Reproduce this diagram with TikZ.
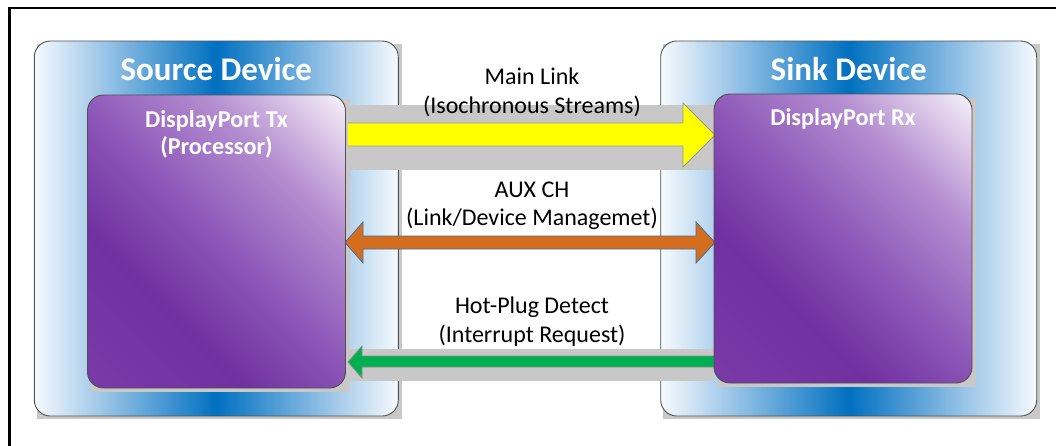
\documentclass[tikz,border=0pt]{standalone}
\usepackage{fontspec}
\setmainfont{Carlito}
\usetikzlibrary{calc}
\definecolor{dvw}{HTML}{F6FAFD}
\definecolor{dvl}{HTML}{A9CDEB}
\definecolor{dvb}{HTML}{0070C0}
\definecolor{pur}{HTML}{7030A0}
\definecolor{purc}{HTML}{7A3AA8}
\definecolor{purh}{HTML}{8C56B8}
\definecolor{purm}{HTML}{B48ED0}
\definecolor{purn}{HTML}{DCC8E8}
\definecolor{purw}{HTML}{F4F1F8}
\definecolor{shgray}{HTML}{C8C8C8}
\definecolor{boxline}{HTML}{505050}
\definecolor{ylw}{HTML}{FFFF00}
\definecolor{org}{HTML}{D46D1E}
\definecolor{orgline}{HTML}{41719C}
\definecolor{grn}{HTML}{00B050}
\pgfdeclarehorizontalshading{devshade}{100bp}{color(0bp)=(dvw); color(25bp)=(dvw); color(33bp)=(dvl); color(50bp)=(dvb); color(67bp)=(dvl); color(75bp)=(dvw); color(100bp)=(dvw)}
\pgfdeclarehorizontalshading{purshade}{100bp}{color(0bp)=(purc); color(15bp)=(purc); color(34.6bp)=(pur); color(50bp)=(purh); color(67.5bp)=(purm); color(78bp)=(purn); color(85bp)=(purw); color(100bp)=(purw)}
\pgfdeclarelayer{lzero}
\pgfdeclarelayer{lone}
\pgfdeclarelayer{ltwo}
\pgfdeclarelayer{lthree}
\pgfdeclarelayer{lfour}
\pgfdeclarelayer{lfive}
\pgfsetlayers{lzero,lone,ltwo,lthree,lfour,lfive,main}
\tikzset{
  devbox/.style={draw=boxline, line width=0.9pt, rounded corners=16pt, shading=devshade, inner sep=0pt},
  procbox/.style={draw=boxline, line width=0.9pt, rounded corners=16pt, shading=purshade, shading angle=45, inner sep=0pt, minimum width=258pt},
  devtitle/.style={text=white, font=\bfseries\fontsize{33}{37}\selectfont, anchor=base, inner sep=0pt},
  proctitle/.style={text=white, font=\bfseries\fontsize{24.2}{28}\selectfont, anchor=base, inner sep=0pt},
  linklabel/.style={text=black, font=\fontsize{24}{28}\selectfont, anchor=base, inner sep=0pt},
  band/.style={fill=shgray},
  yarrow/.style={fill=ylw, draw=gray!80, line width=0.8pt, line join=miter},
  oarrow/.style={fill=org, draw=orgline, line width=0.8pt, line join=miter},
  garrow/.style={fill=grn, draw=gray!90, line width=0.8pt, line join=miter}
}
\begin{document}
\begin{tikzpicture}[x=1pt,y=-1pt]
\useasboundingbox (0,0) rectangle (1056,445);
\begin{pgfonlayer}{lzero}
\fill[white] (0,0) rectangle (1056,445);
\end{pgfonlayer}
% outer device boxes
\begin{pgfonlayer}{ltwo}
\node[devbox, minimum width=364pt, minimum height=375pt] (src) at (216.3,228.5) {};
\node[devbox, minimum width=376pt, minimum height=375pt] (snk) at (848.7,228.5) {};
\end{pgfonlayer}
\begin{pgfonlayer}{lone}
\fill[shgray] ($(src.north west)+(3,3)$) rectangle ($(src.south east)+(3,3)$);
\fill[shgray] ($(snk.north west)+(3,3)$) rectangle ($(snk.south east)+(3,3)$);
\end{pgfonlayer}
% processor boxes
\node[procbox, minimum height=293pt] (tx) at (216.5,241.5) {};
\node[procbox, minimum height=289pt] (rx) at (843,238.5) {};
\begin{pgfonlayer}{lfour}
\fill[shgray] ($(tx.north west)+(4,4)$) rectangle ($(tx.south east)+(4,4)$);
\fill[shgray] ($(rx.north west)+(4,4)$) rectangle ($(rx.south east)+(4,4)$);
\end{pgfonlayer}
% titles
\node[devtitle] (srct) at (216.3,80) {Source Device};
\node[devtitle] (snkt) at (848.7,80) {Sink Device};
\node[proctitle] (txt1) at (216.5,127) {DisplayPort Tx};
\node[proctitle] (txt2) at (216.5,154) {(Processor)};
\node[proctitle] (rxt1) at (843,125) {DisplayPort Rx};
% arrow shadow bands
\begin{pgfonlayer}{lthree}
\fill[band] (346,105) rectangle (718,170);
\fill[band] (350,349) rectangle (714,381);
\end{pgfonlayer}
% arrows
\begin{pgfonlayer}{lfive}
\draw[yarrow] (348,123) -- (683,123) -- (683,103) -- (715,135) -- (683,167) -- (683,146) -- (348,146);
\draw[oarrow] (345,242.5) -- (363,222) -- (363,236) -- (696,236) -- (696,222) -- (715,242.5) -- (696,263) -- (696,249) -- (363,249) -- (363,263) -- cycle;
\draw[garrow] (714,356) -- (362,356) -- (362,346) -- (348,362) -- (362,378) -- (362,367) -- (714,367);
\end{pgfonlayer}
% link labels
\node[linklabel] (ml1) at (532,84) {Main Link};
\node[linklabel] (ml2) at (532,113) {(Isochronous Streams)};
\node[linklabel] (ax1) at (532,197) {AUX CH};
\node[linklabel] (ax2) at (532,225) {(Link/Device Managemet)};
\node[linklabel] (hp1) at (532,313) {Hot-Plug Detect};
\node[linklabel] (hp2) at (532,342) {(Interrupt Request)};
% frame
\draw[line width=2.5pt] (1070,8) -- (9.5,8) -- (9.5,460);
\end{tikzpicture}
\end{document}
